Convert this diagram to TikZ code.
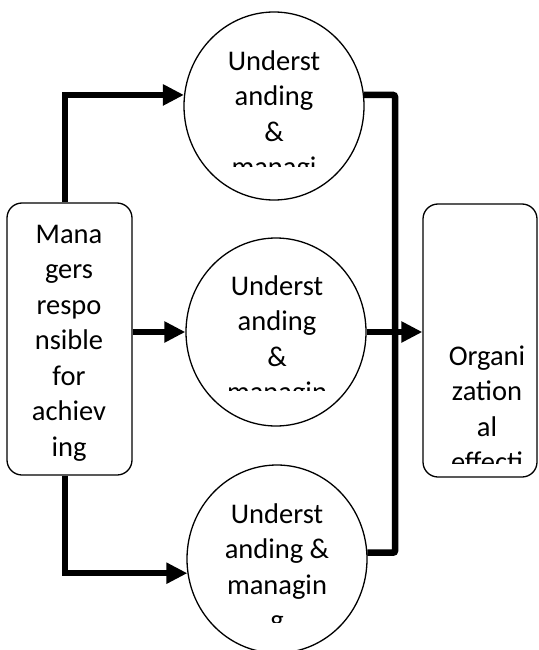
\documentclass[tikz,border=0pt]{standalone}
\usepackage{fontspec}
\setmainfont{Carlito}
\usepackage{tikz}
\usetikzlibrary{arrows.meta,positioning,shapes,calc}
\definecolor{ink}{HTML}{000000}

\begin{document}
\begin{tikzpicture}[x=1pt,y=-1pt,
    box/.style={draw=ink,line width=1.3pt,rounded corners=15pt,inner sep=0pt},
    disc/.style={draw=ink,line width=1.3pt,ellipse,minimum width=180pt,minimum height=188pt,inner sep=0pt},
    words/.style={font=\fontsize{28.5}{35.5}\selectfont,align=center,anchor=base,inner sep=0pt,text=ink},
    flow/.style={ink,line width=6.5pt,-{Triangle[length=21pt,width=20pt]}},
    bus/.style={ink,line width=6.5pt,rounded corners=2pt}]
  \useasboundingbox (0,0) rectangle (538,650);
  \node[box,minimum width=125pt,minimum height=272pt] (mgr) at (69.5,339) {};
  \node[box,minimum width=114pt,minimum height=273pt] (org) at (480,340.5) {};
  \node[disc] (und1) at (274,106) {};
  \node[disc] (und2) at (276,332) {};
  \node[disc] (und3) at (277,559) {};
  \coordinate (rail) at (395,300);

  \draw[flow] ([xshift=-4.5pt]mgr.north) |- (und1.173);
  \draw[flow] (mgr.east |- und2.west) -- (und2.west);
  \draw[flow] ([xshift=-4.5pt]mgr.south) |- (und3.189);
  \draw[bus] (und1.7) -| (rail) |- (und3.4);
  \draw[flow] (und2.east) -- (und2.east -| org.west);

  \begin{scope}
    \clip (180,30) rectangle (370,166);
    \node[words] (t1) at (274,176.5) {Underst\\anding\\\&\\managi};
  \end{scope}
  \begin{scope}
    \clip (180,250) rectangle (370,390);
    \node[words] (t2) at (277,401.5) {Underst\\anding\\\&\\managin};
  \end{scope}
  \begin{scope}
    \clip (180,480) rectangle (370,622);
    \node[words] (t3) at (277,629.5) {Underst\\anding \&\\managin\\g};
  \end{scope}
  \begin{scope}
    \clip (10,210) rectangle (130,467);
    \node[words] (t4) at (69,456) {Mana\\gers\\respo\\nsible\\for\\achiev\\ing};
  \end{scope}
  \begin{scope}
    \clip (425,210) rectangle (535,463);
    \node[words] (t5) at (487,471.5) {Organi\\zation\\al\\effecti};
  \end{scope}
\end{tikzpicture}
\end{document}
